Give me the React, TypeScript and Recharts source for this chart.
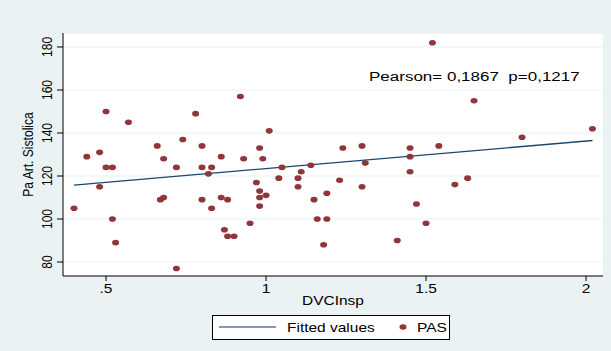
import React from "react";
import { ScatterChart, Scatter, XAxis, YAxis, CartesianGrid, ReferenceDot } from "recharts";

// PAS vs DVCInsp
const dvcInsp = [
  0.40, 0.44, 0.48, 0.48, 0.50, 0.50, 0.52, 0.52, 0.53, 0.57,
  0.66, 0.67, 0.68, 0.68, 0.72, 0.72, 0.74, 0.78, 0.80, 0.80,
  0.80, 0.82, 0.83, 0.83, 0.86, 0.86, 0.87, 0.88, 0.88, 0.90,
  0.92, 0.93, 0.95, 0.97, 0.98, 0.98, 0.98, 0.98, 0.99, 1.00,
  1.01, 1.04, 1.05, 1.10, 1.10, 1.11, 1.14, 1.15, 1.16, 1.18,
  1.19, 1.19, 1.23, 1.24, 1.30, 1.30, 1.31, 1.41, 1.45, 1.45,
  1.45, 1.47, 1.50, 1.52, 1.54, 1.59, 1.65, 1.63, 1.80, 2.02,
];
const pas = [
  105, 129, 131, 115, 150, 124, 124, 100, 89, 145,
  134, 109, 110, 128, 77, 124, 137, 149, 134, 124,
  109, 121, 124, 105, 129, 110, 95, 109, 92, 92,
  157, 128, 98, 117, 133, 113, 110, 106, 128, 111,
  141, 119, 124, 115, 119, 122, 125, 109, 100, 88,
  112, 100, 118, 133, 134, 115, 126, 90, 133, 129,
  122, 107, 98, 182, 134, 116, 155, 119, 138, 142,
];
const fitX = [0.40, 2.02];
const fitY = [115.8, 136.5];
const xTicks = [0.5, 1, 1.5, 2];
const xTickLabels = [".5", "1", "1.5", "2"];
const yTicks = [80, 100, 120, 140, 160, 180];

const BG = "#EAF2F3";
const MAROON = "#90353B";
const NAVY = "#1A476F";
const FONT = '"Liberation Sans", Arial, Helvetica, sans-serif';
const SQ = 0.78; // the original is squashed vertically

const pasData = dvcInsp.map((x, i) => ({ x, y: pas[i] }));
const fitData = fitX.map((x, i) => ({ x, y: fitY[i] }));

function SText({ x, y, size = 15.5, anchor = "middle", rotate = false, children }: any) {
  return (
    <text
      transform={`translate(${x},${y}) scale(1,${SQ})${rotate ? " rotate(-90)" : ""}`}
      x={0}
      y={0}
      fontSize={size}
      fontFamily={FONT}
      textAnchor={anchor}
      fill="#000"
      xmlSpace="preserve"
      style={{ whiteSpace: "pre" }}
    >
      {children}
    </text>
  );
}

const XTick = (props: any) => {
  const { x, y, payload } = props;
  const i = xTicks.indexOf(payload.value);
  return <SText x={x} y={y + 9}>{i >= 0 ? xTickLabels[i] : payload.value}</SText>;
};

const YTick = (props: any) => {
  const { x, y, payload } = props;
  return <SText x={x} y={y} rotate>{payload.value}</SText>;
};

const Dot = (props: any) => <ellipse cx={props.cx} cy={props.cy} rx={3.5} ry={2.8} fill={MAROON} />;

export default function App() {
  return (
    <div style={{ position: "absolute", left: 0, top: 0, width: 611, height: 351, background: BG }}>
      <ScatterChart width={611} height={351} margin={{ top: 33, right: 8, bottom: 45, left: 0 }}>
        <CartesianGrid vertical={false} stroke={BG} strokeWidth={1.2} fill="#ffffff" />
        <XAxis
          type="number"
          dataKey="x"
          domain={[0.3656, 2.053]}
          ticks={xTicks}
          allowDataOverflow
          height={30}
          tickSize={5}
          tickMargin={3}
          tick={<XTick />}
          stroke="#000"
          label={{
            content: (p: any) => (
              <SText x={p.viewBox.x + p.viewBox.width / 2} y={p.viewBox.y + 29}>DVCInsp</SText>
            ),
          }}
        />
        <YAxis
          type="number"
          dataKey="y"
          domain={[73.5, 186.5]}
          ticks={yTicks}
          allowDataOverflow
          width={63}
          tickSize={6}
          tickMargin={5}
          tick={<YTick />}
          stroke="#000"
          label={{
            content: (p: any) => (
              <SText x={p.viewBox.x + 33} y={p.viewBox.y + p.viewBox.height / 2} rotate>Pa Art. Sistolica</SText>
            ),
          }}
        />
        <Scatter
          data={fitData}
          line={{ stroke: NAVY, strokeWidth: 1.3 }}
          shape={() => <g />}
          isAnimationActive={false}
        />
        <Scatter data={pasData} fill={MAROON} shape={<Dot />} isAnimationActive={false} />
        <ReferenceDot
          x={1.325}
          y={164}
          r={1}
          fill="none"
          stroke="none"
          ifOverflow="visible"
          label={{
            content: (p: any) => (
              <SText x={p.viewBox.x} y={p.viewBox.y + 1} size={17} anchor="start">Pearson= 0,1867  p=0,1217</SText>
            ),
          }}
        />
      </ScatterChart>
      <div style={{ position: "absolute", left: 212, top: 315 }}>
        <svg width={238} height={25}>
          <rect x={0.5} y={0.5} width={237} height={24} fill="#ffffff" stroke="#000" />
          <line x1={7} y1={12} x2={64} y2={12} stroke="#5d7894" strokeWidth={1.3} />
          <SText x={75} y={17} anchor="start">Fitted values</SText>
          <ellipse cx={191} cy={12} rx={3.5} ry={2.8} fill={MAROON} />
          <SText x={205} y={17} anchor="start">PAS</SText>
        </svg>
      </div>
    </div>
  );
}
